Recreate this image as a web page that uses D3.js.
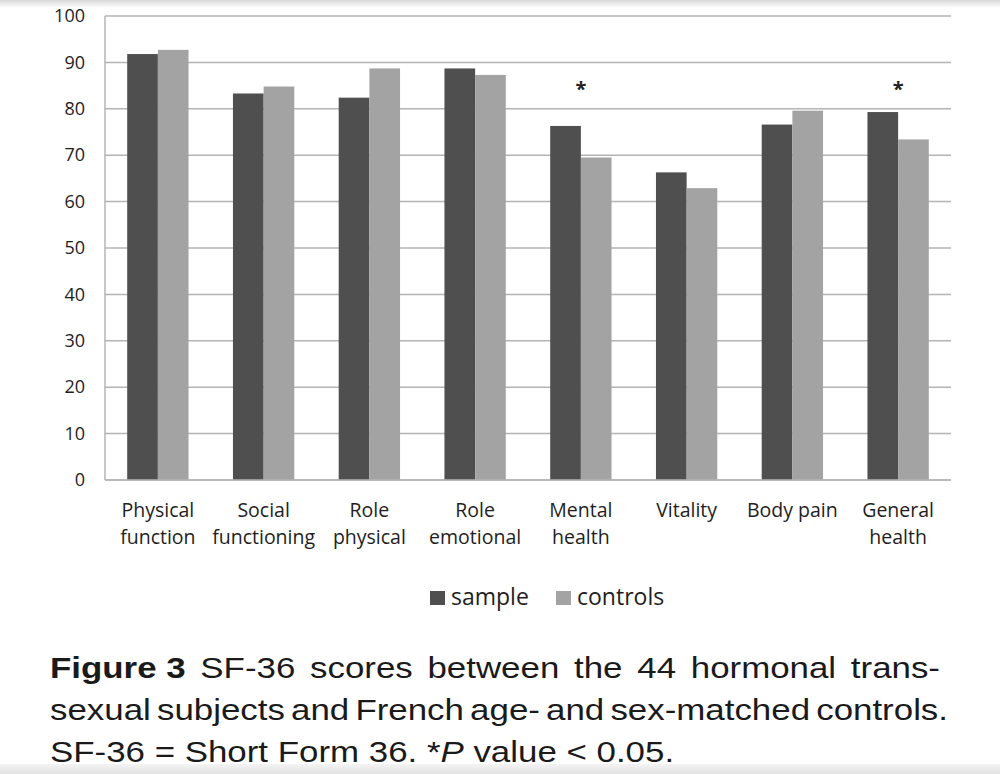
<!DOCTYPE html>
<html><head><meta charset="utf-8">
<script src="https://cdn.jsdelivr.net/npm/d3@7"></script>
<style>html,body{margin:0;padding:0;background:#fff;}</style>
</head><body>
<svg id="c" width="1000" height="774"></svg>
<script>
const categories = [["Physical","function"],["Social","functioning"],["Role","physical"],["Role","emotional"],["Mental","health"],["Vitality"],["Body pain"],["General","health"]];
const sampleValues = [91.8, 83.3, 82.4, 88.7, 76.3, 66.3, 76.6, 79.3];
const controlValues = [92.7, 84.8, 88.7, 87.3, 69.5, 62.9, 79.6, 73.4];
const significant = [false,false,false,false,true,false,false,true];
const yTicks = [0,10,20,30,40,50,60,70,80,90,100];
const seriesNames = ["sample","controls"];
const colors = ["#4f4f4f","#a3a3a3"];
const captionLines = [
  [{t:"Figure 3",b:true},{t:"SF-36"},{t:"scores"},{t:"between"},{t:"the"},{t:"44"},{t:"hormonal"},{t:"trans-"}],
  [{t:"sexual"},{t:"subjects"},{t:"and"},{t:"French"},{t:"age-"},{t:"and"},{t:"sex-matched"},{t:"controls."}],
];
const captionLast = "SF-36 = Short Form 36. *";

(function(){
const svg = d3.select("#c");
const defs = svg.append("defs");
const g1 = defs.append("linearGradient").attr("id","tg").attr("x1",0).attr("y1",0).attr("x2",0).attr("y2",1);
g1.append("stop").attr("offset","0").attr("stop-color","#d8d8d8");
g1.append("stop").attr("offset","1").attr("stop-color","#ffffff");
svg.append("rect").attr("x",0).attr("y",0).attr("width",1000).attr("height",8).attr("fill","url(#tg)");
const g2 = defs.append("linearGradient").attr("id","bg").attr("x1",0).attr("y1",0).attr("x2",0).attr("y2",1);
g2.append("stop").attr("offset","0").attr("stop-color","#f4f4f4");
g2.append("stop").attr("offset","1").attr("stop-color","#e2e2e2");
svg.append("rect").attr("x",0).attr("y",764).attr("width",1000).attr("height",10).attr("fill","url(#bg)");

const pL=105, pR=951, pT=16, pB=480;
const x = d3.scaleBand().domain(d3.range(categories.length)).range([pL,pR]).paddingInner(0.42).paddingOuter(0.21);
const y = d3.scaleLinear().domain([0,100]).range([pB,pT]);
const xs = d3.scaleBand().domain([0,1]).range([0,x.bandwidth()]);
const chartFont = "'Open Sans', Lato, sans-serif";
const textCol = "#1e1e1e";

svg.append("g").selectAll("line").data(yTicks).join("line")
  .attr("x1",pL).attr("x2",pR).attr("y1",d=>y(d)).attr("y2",d=>y(d))
  .attr("stroke","#b4b4b4").attr("stroke-width",1.5);
svg.append("line").attr("x1",pL).attr("x2",pL).attr("y1",pT).attr("y2",pB).attr("stroke","#b4b4b4").attr("stroke-width",1.5);

const yAxis = svg.append("g").attr("transform",`translate(${pL},0)`).call(d3.axisLeft(y).tickValues(yTicks).tickSize(0).tickPadding(20));
yAxis.select(".domain").remove();
yAxis.selectAll("text").attr("font-family",chartFont).attr("font-size",18).attr("fill",textCol);

const groups = svg.append("g").selectAll("g").data(categories).join("g").attr("transform",(d,i)=>`translate(${x(i)},0)`);
groups.selectAll("rect").data((d,i)=>[sampleValues[i],controlValues[i]]).join("rect")
  .attr("x",(d,j)=>xs(j)).attr("width",xs.bandwidth()).attr("y",d=>y(d)).attr("height",d=>pB-y(d))
  .attr("fill",(d,j)=>colors[j]);

svg.append("line").attr("x1",pL).attr("x2",pR).attr("y1",pB).attr("y2",pB).attr("stroke","#b4b4b4").attr("stroke-width",1.5);

svg.append("g").selectAll("text").data(significant.map((s,i)=>({s,i})).filter(d=>d.s)).join("text")
  .attr("x",d=>x(d.i)+x.bandwidth()/2).attr("y",96).attr("text-anchor","middle")
  .attr("font-family",chartFont).attr("font-weight","bold").attr("font-size",20).attr("fill","#222").text("*");

const xl = svg.append("g").selectAll("text").data(categories).join("text")
  .attr("x",(d,i)=>x(i)+x.bandwidth()/2).attr("y",517).attr("text-anchor","middle")
  .attr("font-family",chartFont).attr("font-size",19.5).attr("fill",textCol);
xl.selectAll("tspan").data(d=>d).join("tspan").attr("x",function(){return this.parentNode.getAttribute("x");})
  .attr("dy",(d,k)=>k===0?0:27).text(d=>d);

const legendX = [430,556];
const lg = svg.append("g").selectAll("g").data(seriesNames).join("g").attr("transform",(d,i)=>`translate(${legendX[i]},0)`);
lg.append("rect").attr("x",0).attr("y",591).attr("width",15).attr("height",14).attr("fill",(d,i)=>colors[i]);
lg.append("text").attr("x",21).attr("y",605).attr("font-family",chartFont).attr("font-size",23).attr("fill",textCol).text(d=>d);

const capFont = "'Liberation Sans', Arial, sans-serif";
const capSize = 30, sx = 1.163;
const lineY = [678, 720, 762];
const capLeft = 50, capRights = [940, 948];
const cap = svg.append("g").attr("transform",`translate(${capLeft},0) scale(${sx},1)`);
captionLines.forEach((words,li)=>{
  const nodes = words.map(w=>cap.append("text").attr("y",lineY[li]).attr("font-family",capFont).attr("font-size",capSize)
     .attr("font-weight",w.b?"bold":"normal").attr("fill","#1a1a1a").text(w.t));
  const widths = nodes.map(n=>n.node().getComputedTextLength());
  const total = d3.sum(widths);
  const avail = (capRights[li]-capLeft)/sx;
  const gap = (avail-total)/(words.length-1);
  let cx = 0;
  nodes.forEach((n,k)=>{ n.attr("x",cx); cx += widths[k]+gap; });
});
const last = cap.append("text").attr("x",0).attr("y",lineY[2]).attr("font-family",capFont).attr("font-size",capSize).attr("fill","#1a1a1a");
last.append("tspan").text(captionLast);
last.append("tspan").attr("font-style","italic").text("P");
last.append("tspan").text(" value < 0.05.");
})();
</script>
</body></html>
